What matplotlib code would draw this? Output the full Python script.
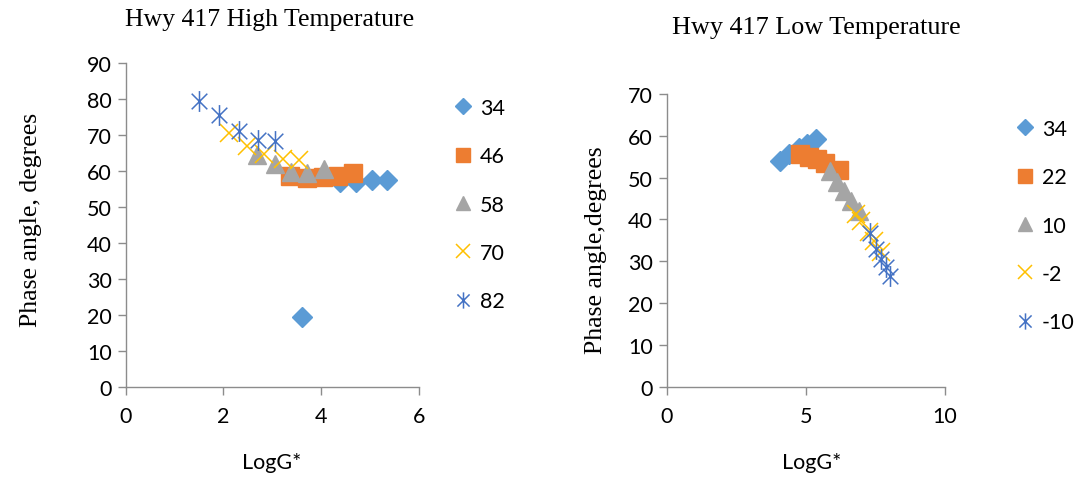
import numpy as np
import matplotlib
matplotlib.use('Agg')
import matplotlib.pyplot as plt
from matplotlib.path import Path

# High temperature chart (Hwy 417)
hi_labels = ['34', '46', '58', '70', '82']
hi_x34 = [3.60, 4.38, 4.71, 5.04, 5.35]
hi_y34 = [19.4, 56.8, 57.0, 57.5, 57.5]
hi_x46 = [3.37, 3.71, 4.04, 4.35, 4.65]
hi_y46 = [58.7, 58.0, 58.2, 58.5, 59.3]
hi_x58 = [2.69, 3.05, 3.39, 3.71, 4.05]
hi_y58 = [64.4, 61.9, 59.8, 59.4, 60.4]
hi_x70 = [2.11, 2.48, 2.83, 3.21, 3.54]
hi_y70 = [70.5, 67.0, 64.7, 63.3, 62.9]
hi_x82 = [1.49, 1.91, 2.31, 2.70, 3.05]
hi_y82 = [79.5, 75.5, 71.2, 68.6, 68.4]

# Low temperature chart
lo_labels = ['34', '22', '10', '-2', '-10']
lo_x34 = [4.08, 4.38, 4.74, 5.04, 5.38]
lo_y34 = [54.0, 55.6, 57.0, 58.0, 59.2]
lo_x22 = [4.80, 5.10, 5.40, 5.70, 6.20]
lo_y22 = [55.6, 55.0, 54.4, 53.4, 51.8]
lo_x10 = [5.86, 6.13, 6.37, 6.61, 6.91]
lo_y10 = [51.5, 49.0, 46.8, 44.4, 42.0]
lo_xm2 = [6.80, 6.98, 7.27, 7.45, 7.69]
lo_ym2 = [41.2, 39.7, 36.9, 34.9, 32.1]
lo_xm10 = [7.29, 7.51, 7.69, 7.87, 8.03]
lo_ym10 = [36.7, 32.9, 30.5, 28.6, 26.4]

# excel-like star marker: x plus vertical bar
star = Path([(0, -1), (0, 1), (-0.75, -0.75), (0.75, 0.75), (-0.75, 0.75), (0.75, -0.75)],
            [Path.MOVETO, Path.LINETO, Path.MOVETO, Path.LINETO, Path.MOVETO, Path.LINETO])

styles = [
    dict(marker='D', color='#5B9BD5', ms=10.5, mec='#5B9BD5'),
    dict(marker='s', color='#ED7D31', ms=13, mec='#ED7D31'),
    dict(marker='^', color='#A5A5A5', ms=13.5, mec='#A5A5A5'),
    dict(marker='x', color='#FFC000', ms=13, mew=1.1),
    dict(marker=star, color='#4472C4', ms=15, mew=1.1),
]

W, H = 1079, 481
fig = plt.figure(figsize=(W / 100, H / 100), dpi=100)

def px(x0, y0, x1, y1):
    return [x0 / W, 1 - y1 / H, (x1 - x0) / W, (y1 - y0) / H]

tick_font = 'Lato'
fs = 15.5
axc = '#8C8C8C'

def style_axes(ax, xmax, xstep, ymax):
    ax.set_xlim(0, xmax)
    ax.set_ylim(0, ymax)
    ax.set_xticks(np.arange(0, xmax + 0.1, xstep))
    ax.set_yticks(np.arange(0, ymax + 1, 10))
    for s in ['top', 'right']:
        ax.spines[s].set_visible(False)
    for s in ['left', 'bottom']:
        ax.spines[s].set_color(axc)
        ax.spines[s].set_linewidth(1.0)
    ax.tick_params(direction='out', length=6, width=1.0, color=axc, labelsize=fs, pad=4)
    ax.tick_params(axis='x', pad=8)
    for lab in ax.get_xticklabels() + ax.get_yticklabels():
        lab.set_fontfamily(tick_font)

ax1 = fig.add_axes(px(125.7, 64, 419, 387.7))
hi = [(hi_x34, hi_y34), (hi_x46, hi_y46), (hi_x58, hi_y58), (hi_x70, hi_y70), (hi_x82, hi_y82)]
h1 = []
for (x, y), st, lab in zip(hi, styles, hi_labels):
    l, = ax1.plot(x, y, ls='none', label=lab, clip_on=False, **st)
    h1.append(l)
style_axes(ax1, 6, 2, 90)

ax2 = fig.add_axes(px(666.7, 95, 945, 387.7))
lo = [(lo_x34, lo_y34), (lo_x22, lo_y22), (lo_x10, lo_y10), (lo_xm2, lo_ym2), (lo_xm10, lo_ym10)]
h2 = []
for (x, y), st, lab in zip(lo, styles, lo_labels):
    l, = ax2.plot(x, y, ls='none', label=lab, clip_on=False, **st)
    h2.append(l)
style_axes(ax2, 10, 5, 70)

def small_handles(src):
    out = []
    for l in src:
        m = plt.Line2D([], [], ls='none', marker=l.get_marker(), color=l.get_color(),
                       ms=l.get_markersize() * 0.78, mew=l.get_markeredgewidth())
        out.append(m)
    return out

leg_font = {'family': tick_font, 'size': fs}
fig.legend(small_handles(h1), hi_labels, loc='upper left', bbox_to_anchor=(441 / W, 1 - 88 / H),
           frameon=False, prop=leg_font, labelspacing=1.32, handlelength=1.0, handletextpad=0.3,
           borderpad=0)
fig.legend(small_handles(h2), lo_labels, loc='upper left', bbox_to_anchor=(1003 / W, 1 - 109 / H),
           frameon=False, prop=leg_font, labelspacing=1.32, handlelength=1.0, handletextpad=0.3,
           borderpad=0)

serif = 'Liberation Serif'
fig.text(270 / W, 1 - 20 / H, 'Hwy 417 High Temperature', family=serif, size=18.5, ha='center', va='center')
fig.text(816 / W, 1 - 28 / H, 'Hwy 417 Low Temperature', family=serif, size=18.8, ha='center', va='center')
fig.text(31 / W, 1 - 220 / H, 'Phase angle, degrees', family=serif, size=18.5, ha='center', va='center', rotation=90)
fig.text(596 / W, 1 - 250 / H, 'Phase angle,degrees', family=serif, size=18.5, ha='center', va='center', rotation=90)
fig.text(272 / W, 1 - 463 / H, 'LogG*', family=tick_font, size=fs, ha='center', va='center')
fig.text(812 / W, 1 - 463 / H, 'LogG*', family=tick_font, size=fs, ha='center', va='center')

fig.savefig('out.png', dpi=100)
